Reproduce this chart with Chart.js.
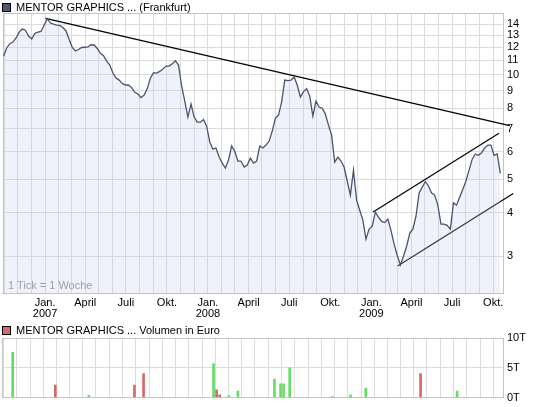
<!DOCTYPE html>
<html>
<head>
<meta charset="utf-8">
<script src="https://cdn.jsdelivr.net/npm/chart.js@4/dist/chart.umd.min.js"></script>
<style>
  html, body { margin: 0; padding: 0; background: #fff; }
  body { width: 545px; height: 407px; position: relative; overflow: hidden;
         font-family: "Liberation Sans", Arial, sans-serif; }
  .legend { position: absolute; left: 2px; font-size: 11px; line-height: 13px; color: #000;
            white-space: nowrap; display: flex; align-items: center; z-index: 2; }
  .legend i { display: inline-block; width: 7px; height: 7px; border: 1px solid #000; margin-right: 5px; }
  #priceBox { position: absolute; left: 0; top: 0; }
  #volBox { position: absolute; left: 0; top: 322px; }
  #note { position: absolute; left: 8px; top: 279px; font-size: 11px; line-height: 13px;
          color: #a0a0a0; z-index: 2; white-space: nowrap; }
</style>
</head>
<body>
<div class="legend" style="top:1px"><i style="background:#4f5873"></i>MENTOR GRAPHICS ... (Frankfurt)</div>
<div class="legend" style="top:324px"><i style="background:#dd6666"></i>MENTOR GRAPHICS ... Volumen in Euro</div>
<div id="note">1 Tick = 1 Woche</div>
<canvas id="priceBox" width="545" height="325"></canvas>
<canvas id="volBox" width="545" height="85"></canvas>
<script>
// Weekly closing prices (EUR), one value per week starting at firstWeek
const firstWeek = '2006-09-30';
const closes = [
  11.30, 11.94, 12.29, 12.42, 12.76, 13.27, 13.54, 13.43, 12.93, 12.68,
  13.15, 13.27, 13.32, 13.90, 14.50, 14.09, 13.98, 13.90, 13.87, 13.68,
  13.37, 12.63, 11.98, 11.70, 11.82, 11.98, 12.00, 12.02, 12.20, 12.18,
  11.90, 11.53, 11.35, 10.95, 10.66, 10.11, 9.78, 9.65, 9.43, 9.34,
  9.34, 9.18, 8.90, 8.80, 8.59, 8.74, 9.12, 9.77, 10.14, 10.11,
  10.22, 10.38, 10.59, 10.59, 10.76, 10.98, 10.66, 9.28, 8.39, 7.55,
  8.23, 7.55, 7.30, 7.30, 7.43, 7.11, 6.40, 6.10, 6.15, 5.79,
  5.56, 5.38, 5.68, 6.23, 6.02, 5.64, 5.64, 5.42, 5.49, 5.75,
  5.56, 5.64, 6.23, 6.15, 6.27, 6.44, 6.88, 7.50, 7.65, 8.34,
  9.65, 9.62, 9.65, 9.85, 9.34, 8.62, 8.94, 9.12, 8.68, 7.60,
  8.39, 8.07, 8.01, 7.70, 7.16, 6.70, 5.60, 5.79, 5.64, 5.42,
  4.94, 4.50, 5.31, 4.35, 4.07, 3.81, 3.36, 3.59, 3.66, 4.02,
  3.89, 3.78, 3.75, 3.84, 3.56, 3.25, 3.02, 2.83, 3.00, 3.20,
  3.49, 3.59, 3.91, 4.56, 4.74, 4.92, 4.78, 4.56, 4.50, 4.21,
  3.71, 3.71, 3.68, 3.59, 4.27, 4.21, 4.44, 4.68, 4.94, 5.31,
  5.71, 5.91, 5.86, 5.96, 6.15, 6.27, 6.27, 5.86, 5.91, 5.20
];

// Visible date range and price axis
const rangeStart = '2006-09-28';
const rangeEnd = '2009-10-23';
const firstLabelYear = 2007;
const priceMin = 2.35;
const priceMax = 15.06;
const priceTicks = [3, 4, 5, 6, 7, 8, 9, 10, 11, 12, 13, 14];

// Trend lines: resistance from the 2007 high, and the 2009 rising channel
const resistanceDates = ['2007-01-02', '2009-11-07'];
const resistanceValues = [14.54, 7.13];
const channelTopDates = ['2009-01-05', '2009-10-14'];
const channelTopValues = [4.02, 6.78];
const channelBottomDates = ['2009-03-01', '2009-11-15'];
const channelBottomValues = [2.81, 4.55];

// Weekly turnover in thousand euro (T), with up/down week flag
const volumeDates = [
  '2006-10-07', '2007-01-13', '2007-03-31', '2007-07-14', '2007-08-04',
  '2008-01-12', '2008-01-19', '2008-01-26', '2008-02-16', '2008-03-08',
  '2008-05-31', '2008-06-14', '2008-06-21', '2008-07-05', '2008-10-11',
  '2008-11-22', '2008-12-27', '2009-05-02', '2009-07-25'
];
const volumeValues = [
  7.6, 2.1, 0.35, 2.1, 4.0,
  5.7, 1.3, 0.45, 0.3, 1.1,
  3.1, 2.3, 2.3, 5.0, 0.15,
  0.45, 1.6, 4.0, 1.1
];
const volumeUp = [
  true, false, true, false, false,
  true, false, false, true, true,
  true, true, true, true, true,
  true, true, false, true
];
const volumeTicks = [0, 5, 10];

// Month names used on the time axis (quarters only)
const quarterNames = { 0: 'Jan.', 3: 'April', 6: 'Juli', 9: 'Okt.' };

const DAY = 86400000;
const ORIGIN = Date.UTC(2007, 0, 1);
const toDay = s => (Date.parse(s) - ORIGIN) / DAY;

// Month starts carry the vertical grid; quarter starts get a label
const monthTicks = [];
const monthLabels = {};
for (let y = 2006; y <= 2009; y++) {
  for (let m = 0; m < 12; m++) {
    const d = (Date.UTC(y, m, 1) - ORIGIN) / DAY;
    if (d < toDay(rangeStart) || d > toDay(rangeEnd)) continue;
    monthTicks.push(d);
    if (y >= firstLabelYear && m in quarterNames) {
      monthLabels[d] = m === 0 ? [quarterNames[m], String(y)] : quarterNames[m];
    }
  }
}

const FONT = { family: '"Liberation Sans", Arial, sans-serif', size: 11, lineHeight: 1 };
const GRID = '#dcdcdc';
const EDGE = '#c4c4c4';

// Left and top edges of the plot frame
const frame = {
  id: 'frame',
  beforeDatasetsDraw(chart) {
    const a = chart.chartArea, c = chart.ctx;
    c.save();
    c.strokeStyle = EDGE;
    c.lineWidth = 1;
    c.beginPath();
    c.moveTo(Math.round(a.left) + 0.5, Math.round(a.bottom));
    c.lineTo(Math.round(a.left) + 0.5, Math.round(a.top) + 0.5);
    c.lineTo(Math.round(a.right), Math.round(a.top) + 0.5);
    c.stroke();
    c.restore();
  }
};

const xScale = (showLabels, height) => ({
  type: 'linear',
  min: toDay(rangeStart),
  max: toDay(rangeEnd),
  afterBuildTicks: s => { s.ticks = monthTicks.map(v => ({ value: v })); },
  afterFit: s => { s.height = height; },
  ticks: {
    display: showLabels,
    autoSkip: false,
    maxRotation: 0,
    padding: 4,
    color: '#000',
    font: FONT,
    callback: v => monthLabels[v] || ''
  },
  grid: { color: GRID, drawTicks: false },
  border: { color: EDGE }
});

const pricePoints = closes.map((v, i) => ({ x: toDay(firstWeek) + 7 * i, y: v }));
const linePoints = (dates, values) => dates.map((d, i) => ({ x: toDay(d), y: values[i] }));
const trendStyle = { borderColor: '#000', borderWidth: 1.2, pointRadius: 0, fill: false, clip: false, tension: 0 };

new Chart(document.getElementById('priceBox'), {
  type: 'line',
  data: {
    datasets: [
      { data: pricePoints, borderColor: '#4a5470', borderWidth: 1.3, pointRadius: 0, tension: 0,
        backgroundColor: 'rgba(190,205,240,0.25)', fill: 'start' },
      Object.assign({ data: linePoints(resistanceDates, resistanceValues) }, trendStyle),
      Object.assign({ data: linePoints(channelTopDates, channelTopValues) }, trendStyle),
      Object.assign({ data: linePoints(channelBottomDates, channelBottomValues) }, trendStyle)
    ]
  },
  options: {
    responsive: false,
    animation: false,
    events: [],
    layout: { padding: { left: 2, top: 13, right: 0, bottom: 0 } },
    plugins: { legend: { display: false }, tooltip: { enabled: false } },
    scales: {
      x: xScale(true, 32),
      y: {
        type: 'logarithmic',
        position: 'right',
        min: priceMin,
        max: priceMax,
        afterBuildTicks: s => { s.ticks = priceTicks.map(v => ({ value: v })); },
        afterFit: s => { s.width = 42; },
        ticks: { padding: 4, color: '#000', font: FONT, callback: v => String(v) },
        grid: { color: GRID, drawTicks: false },
        border: { color: EDGE }
      }
    }
  },
  plugins: [frame]
});

new Chart(document.getElementById('volBox'), {
  type: 'bar',
  data: {
    datasets: [{
      data: volumeDates.map((d, i) => ({ x: toDay(d), y: volumeValues[i] })),
      backgroundColor: volumeUp.map(u => u ? '#66dd66' : '#dd6666'),
      barThickness: 2,
      borderWidth: 0
    }]
  },
  options: {
    responsive: false,
    animation: false,
    events: [],
    layout: { padding: { left: 2, top: 16, right: 0, bottom: 0 } },
    plugins: { legend: { display: false }, tooltip: { enabled: false } },
    scales: {
      x: xScale(false, 9),
      y: {
        position: 'right',
        min: 0,
        max: 10,
        afterBuildTicks: s => { s.ticks = volumeTicks.map(v => ({ value: v })); },
        afterFit: s => { s.width = 42; },
        ticks: { padding: 4, color: '#000', font: FONT, callback: v => v + 'T' },
        grid: { color: GRID, drawTicks: false },
        border: { color: EDGE }
      }
    }
  },
  plugins: [frame]
});
</script>
</body>
</html>
